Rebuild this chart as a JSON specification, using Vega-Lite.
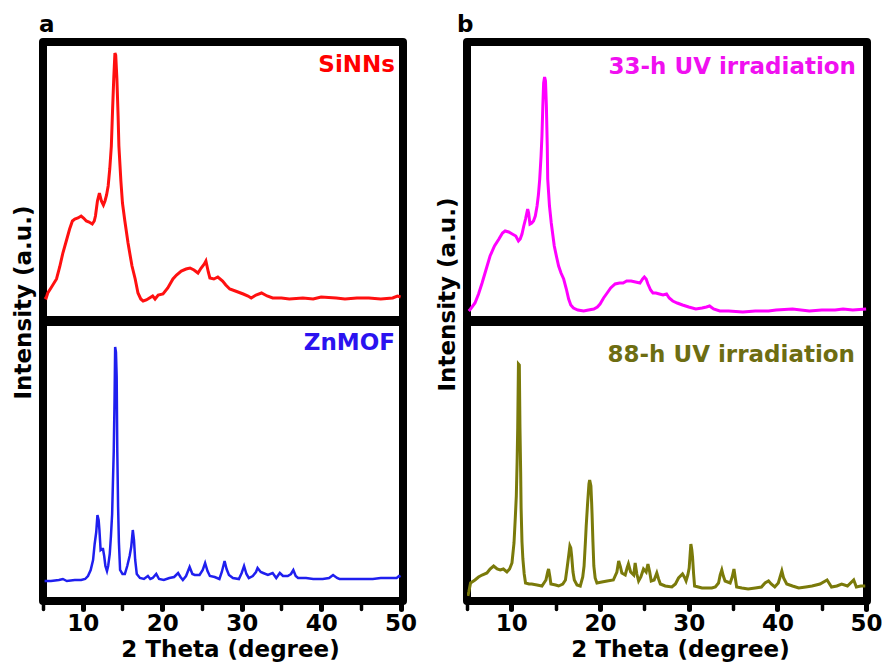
{
  "$schema": "https://vega.github.io/schema/vega-lite/v6.json",
  "padding": {"left": 8, "top": 10, "right": 5, "bottom": 5},
  "background": "white",
  "config": {
    "font": "DejaVu Sans",
    "view": {"stroke": "black", "strokeWidth": 8, "strokeJoin": "round"},
    "axis": {"labelFont": "DejaVu Sans", "labelFontWeight": "bold", "labelFontSize": 23, "labelColor": "black", "titleFont": "DejaVu Sans", "titleFontWeight": "bold", "titleFontSize": 23, "titleColor": "black", "grid": false, "domain": false},
    "title": {"font": "DejaVu Sans", "fontWeight": "bold", "fontSize": 23, "color": "black"},
    "text": {"font": "DejaVu Sans", "fontWeight": "bold", "fontSize": 23, "align": "right", "baseline": "alphabetic"}
  },
  "datasets": {
    "sinns": [
      {"t":5.2,"i":24},{"t":5.4,"i":23},{"t":5.6,"i":28},{"t":6.0,"i":33},{"t":6.7,"i":42},{"t":7.1,"i":54},{"t":7.5,"i":68},{"t":8.0,"i":82},{"t":8.35,"i":92},{"t":8.7,"i":100},{"t":9.0,"i":102},{"t":9.4,"i":103},{"t":9.8,"i":105},{"t":10.1,"i":103},{"t":10.45,"i":100},{"t":10.8,"i":99},{"t":11.2,"i":97},{"t":11.45,"i":100},{"t":11.6,"i":105},{"t":11.85,"i":120},{"t":12.1,"i":128},{"t":12.35,"i":120},{"t":12.6,"i":116},{"t":12.8,"i":120},{"t":13.0,"i":126},{"t":13.2,"i":135},{"t":13.4,"i":152},{"t":13.6,"i":175},{"t":13.75,"i":210},{"t":13.9,"i":242},{"t":14.05,"i":268},{"t":14.15,"i":266},{"t":14.3,"i":242},{"t":14.45,"i":205},{"t":14.55,"i":175},{"t":14.8,"i":140},{"t":15.0,"i":118},{"t":15.3,"i":100},{"t":15.7,"i":78},{"t":16.0,"i":64},{"t":16.2,"i":55},{"t":16.6,"i":42},{"t":16.95,"i":28},{"t":17.3,"i":22},{"t":17.6,"i":20},{"t":18.0,"i":21},{"t":18.4,"i":23},{"t":18.8,"i":25},{"t":19.1,"i":22},{"t":19.5,"i":26},{"t":20.1,"i":27},{"t":20.7,"i":33},{"t":21.35,"i":42},{"t":21.8,"i":46},{"t":22.4,"i":50},{"t":23.0,"i":52},{"t":23.5,"i":53},{"t":24.0,"i":51},{"t":24.5,"i":48},{"t":24.9,"i":53},{"t":25.3,"i":57},{"t":25.5,"i":60},{"t":25.8,"i":49},{"t":26.0,"i":43},{"t":26.5,"i":42},{"t":27.0,"i":44},{"t":27.6,"i":40},{"t":28.0,"i":36},{"t":28.5,"i":32},{"t":29.2,"i":30},{"t":30.2,"i":27},{"t":30.8,"i":25},{"t":31.2,"i":23},{"t":31.8,"i":26},{"t":32.5,"i":28},{"t":33.2,"i":25},{"t":33.9,"i":23},{"t":35,"i":23},{"t":36,"i":22},{"t":37.7,"i":23},{"t":39,"i":22},{"t":40,"i":24},{"t":41.9,"i":23},{"t":43,"i":22},{"t":44.5,"i":23},{"t":46,"i":23},{"t":47.5,"i":22},{"t":49,"i":23},{"t":49.6,"i":25},{"t":50,"i":24}
    ],
    "znmof": [
      {"t":5.2,"i":21},{"t":6,"i":21},{"t":7,"i":22},{"t":7.5,"i":23},{"t":8,"i":21},{"t":9,"i":22},{"t":9.8,"i":22},{"t":10.3,"i":23},{"t":10.66,"i":26},{"t":11.0,"i":32},{"t":11.3,"i":42},{"t":11.5,"i":58},{"t":11.7,"i":70},{"t":11.85,"i":87},{"t":12.0,"i":82},{"t":12.1,"i":72},{"t":12.25,"i":52},{"t":12.4,"i":53},{"t":12.55,"i":53},{"t":12.7,"i":46},{"t":12.85,"i":36},{"t":13.05,"i":31},{"t":13.2,"i":36},{"t":13.4,"i":48},{"t":13.55,"i":66},{"t":13.7,"i":88},{"t":13.8,"i":120},{"t":13.9,"i":150},{"t":14.0,"i":200},{"t":14.08,"i":255},{"t":14.18,"i":250},{"t":14.27,"i":225},{"t":14.35,"i":150},{"t":14.45,"i":95},{"t":14.55,"i":60},{"t":14.7,"i":32},{"t":15.0,"i":28},{"t":15.3,"i":28},{"t":15.6,"i":36},{"t":15.9,"i":46},{"t":16.1,"i":55},{"t":16.3,"i":72},{"t":16.45,"i":62},{"t":16.6,"i":42},{"t":16.8,"i":28},{"t":17.2,"i":24},{"t":17.7,"i":23},{"t":18.2,"i":26},{"t":18.5,"i":23},{"t":18.8,"i":24},{"t":19.25,"i":28},{"t":19.6,"i":23},{"t":20.2,"i":22},{"t":20.9,"i":24},{"t":21.5,"i":25},{"t":22.0,"i":29},{"t":22.3,"i":25},{"t":22.6,"i":22},{"t":23.0,"i":26},{"t":23.45,"i":35},{"t":23.8,"i":28},{"t":24.1,"i":27},{"t":24.7,"i":27},{"t":25.1,"i":32},{"t":25.4,"i":39},{"t":25.7,"i":31},{"t":26.0,"i":26},{"t":26.6,"i":25},{"t":27.2,"i":23},{"t":27.5,"i":30},{"t":27.85,"i":41},{"t":28.1,"i":33},{"t":28.4,"i":27},{"t":28.9,"i":24},{"t":29.65,"i":23},{"t":30.0,"i":29},{"t":30.3,"i":36},{"t":30.6,"i":28},{"t":30.9,"i":24},{"t":31.4,"i":26},{"t":31.8,"i":30},{"t":32.0,"i":34},{"t":32.4,"i":30},{"t":32.7,"i":29},{"t":33.3,"i":27},{"t":33.9,"i":29},{"t":34.35,"i":24},{"t":34.8,"i":29},{"t":35.2,"i":26},{"t":35.8,"i":26},{"t":36.2,"i":28},{"t":36.5,"i":32},{"t":36.8,"i":26},{"t":37.1,"i":24},{"t":38.1,"i":24},{"t":39,"i":23},{"t":40.2,"i":23},{"t":41.0,"i":24},{"t":41.5,"i":27},{"t":42.0,"i":24},{"t":42.3,"i":23},{"t":44.4,"i":23},{"t":46.5,"i":23},{"t":47.5,"i":24},{"t":48.6,"i":24},{"t":49.5,"i":24},{"t":49.8,"i":26},{"t":50,"i":25}
    ],
    "uv33": [
      {"t":5.2,"i":10},{"t":5.4,"i":12},{"t":5.9,"i":18},{"t":6.3,"i":27},{"t":6.7,"i":38},{"t":7.1,"i":50},{"t":7.6,"i":65},{"t":8.1,"i":75},{"t":8.6,"i":82},{"t":9.0,"i":88},{"t":9.3,"i":90},{"t":9.7,"i":89},{"t":10.1,"i":87},{"t":10.5,"i":85},{"t":10.8,"i":80},{"t":11.0,"i":82},{"t":11.2,"i":87},{"t":11.4,"i":95},{"t":11.6,"i":102},{"t":11.84,"i":112},{"t":11.95,"i":108},{"t":12.1,"i":97},{"t":12.3,"i":98},{"t":12.5,"i":100},{"t":12.7,"i":105},{"t":12.9,"i":115},{"t":13.05,"i":126},{"t":13.2,"i":142},{"t":13.35,"i":165},{"t":13.45,"i":185},{"t":13.55,"i":215},{"t":13.64,"i":238},{"t":13.75,"i":244},{"t":13.85,"i":240},{"t":13.95,"i":215},{"t":14.05,"i":175},{"t":14.1,"i":142},{"t":14.3,"i":115},{"t":14.5,"i":98},{"t":14.84,"i":75},{"t":15.1,"i":64},{"t":15.33,"i":55},{"t":15.6,"i":48},{"t":15.9,"i":42},{"t":16.2,"i":32},{"t":16.46,"i":22},{"t":16.7,"i":16},{"t":17.0,"i":13},{"t":17.5,"i":11},{"t":18.15,"i":10},{"t":18.7,"i":11},{"t":19.3,"i":12},{"t":19.7,"i":14},{"t":20.0,"i":17},{"t":20.4,"i":23},{"t":20.8,"i":28},{"t":21.2,"i":33},{"t":21.7,"i":37},{"t":22.2,"i":38},{"t":22.6,"i":38},{"t":23.0,"i":40},{"t":23.5,"i":40},{"t":24.0,"i":39},{"t":24.5,"i":38},{"t":24.8,"i":42},{"t":25.0,"i":44},{"t":25.2,"i":42},{"t":25.4,"i":37},{"t":25.7,"i":31},{"t":25.96,"i":28},{"t":26.3,"i":28},{"t":26.7,"i":27},{"t":27.1,"i":26},{"t":27.5,"i":27},{"t":27.8,"i":23},{"t":28.2,"i":20},{"t":28.7,"i":18},{"t":29.3,"i":16},{"t":30.0,"i":14},{"t":30.8,"i":12},{"t":31.5,"i":13},{"t":32.0,"i":14},{"t":32.35,"i":15},{"t":32.8,"i":12},{"t":33.5,"i":10},{"t":34.5,"i":10},{"t":36.1,"i":9},{"t":37.5,"i":10},{"t":39,"i":10},{"t":39.85,"i":11},{"t":41.7,"i":12},{"t":43.6,"i":10},{"t":45,"i":11},{"t":46.5,"i":11},{"t":47.4,"i":12},{"t":48.5,"i":11},{"t":50,"i":12}
    ],
    "uv88": [
      {"t":5.1,"i":6},{"t":5.2,"i":10},{"t":5.4,"i":19},{"t":5.9,"i":22},{"t":6.3,"i":25},{"t":6.7,"i":27},{"t":7.25,"i":29},{"t":7.6,"i":33},{"t":8.0,"i":36},{"t":8.4,"i":33},{"t":8.75,"i":32},{"t":9.1,"i":33},{"t":9.5,"i":30},{"t":9.8,"i":33},{"t":10.07,"i":39},{"t":10.3,"i":59},{"t":10.45,"i":85},{"t":10.56,"i":106},{"t":10.65,"i":140},{"t":10.72,"i":175},{"t":10.8,"i":238},{"t":10.9,"i":237},{"t":10.97,"i":175},{"t":11.05,"i":130},{"t":11.1,"i":94},{"t":11.2,"i":60},{"t":11.3,"i":43},{"t":11.45,"i":28},{"t":11.6,"i":19},{"t":12.0,"i":18},{"t":12.3,"i":18},{"t":12.9,"i":17},{"t":13.45,"i":16},{"t":13.9,"i":22},{"t":14.1,"i":30},{"t":14.2,"i":33},{"t":14.35,"i":25},{"t":14.46,"i":18},{"t":15.0,"i":17},{"t":15.33,"i":16},{"t":15.8,"i":18},{"t":16.1,"i":22},{"t":16.3,"i":35},{"t":16.46,"i":46},{"t":16.6,"i":56},{"t":16.7,"i":54},{"t":16.8,"i":46},{"t":16.95,"i":30},{"t":17.1,"i":22},{"t":17.4,"i":17},{"t":17.77,"i":16},{"t":18.05,"i":25},{"t":18.2,"i":36},{"t":18.35,"i":60},{"t":18.44,"i":76},{"t":18.6,"i":99},{"t":18.75,"i":118},{"t":18.83,"i":122},{"t":18.97,"i":116},{"t":19.05,"i":100},{"t":19.1,"i":88},{"t":19.2,"i":60},{"t":19.3,"i":36},{"t":19.45,"i":24},{"t":19.65,"i":19},{"t":20.2,"i":20},{"t":20.8,"i":21},{"t":21.5,"i":22},{"t":21.9,"i":30},{"t":22.1,"i":41},{"t":22.3,"i":35},{"t":22.46,"i":29},{"t":22.65,"i":28},{"t":22.84,"i":27},{"t":23.05,"i":34},{"t":23.2,"i":38},{"t":23.45,"i":30},{"t":23.8,"i":27},{"t":23.96,"i":39},{"t":24.15,"i":28},{"t":24.35,"i":21},{"t":24.6,"i":25},{"t":24.9,"i":33},{"t":25.2,"i":30},{"t":25.4,"i":38},{"t":25.6,"i":30},{"t":25.77,"i":21},{"t":26.1,"i":22},{"t":26.4,"i":29},{"t":26.6,"i":23},{"t":26.8,"i":18},{"t":27.35,"i":16},{"t":28.1,"i":15},{"t":28.5,"i":18},{"t":28.85,"i":24},{"t":29.3,"i":28},{"t":29.5,"i":25},{"t":29.7,"i":21},{"t":29.9,"i":27},{"t":30.05,"i":34},{"t":30.24,"i":58},{"t":30.35,"i":52},{"t":30.43,"i":45},{"t":30.55,"i":28},{"t":30.66,"i":16},{"t":31.5,"i":14},{"t":32.6,"i":14},{"t":33.0,"i":15},{"t":33.36,"i":19},{"t":33.55,"i":27},{"t":33.73,"i":32},{"t":33.9,"i":26},{"t":34.1,"i":21},{"t":34.67,"i":19},{"t":34.9,"i":25},{"t":35.1,"i":33},{"t":35.25,"i":24},{"t":35.4,"i":15},{"t":36.0,"i":14},{"t":36.7,"i":13},{"t":37.5,"i":14},{"t":38.2,"i":15},{"t":38.6,"i":19},{"t":39.0,"i":21},{"t":39.3,"i":18},{"t":39.7,"i":15},{"t":40.1,"i":19},{"t":40.5,"i":31},{"t":40.7,"i":24},{"t":41.05,"i":18},{"t":41.7,"i":16},{"t":42.4,"i":14},{"t":43.2,"i":15},{"t":43.9,"i":16},{"t":44.8,"i":18},{"t":45.6,"i":22},{"t":46.1,"i":15},{"t":46.7,"i":16},{"t":47.25,"i":18},{"t":47.9,"i":16},{"t":48.6,"i":22},{"t":48.9,"i":15},{"t":49.4,"i":16},{"t":49.9,"i":16}
    ]
  },
  "columns": 2,
  "align": "each",
  "bounds": "flush",
  "spacing": {"row": 2, "column": 64},
  "concat": [
    {
      "width": 360, "height": 278,
      "title": {"text": "a", "anchor": "start", "frame": "group", "dx": -4, "offset": -13, "baseline": "alphabetic"},
      "layer": [
        {
          "data": {"name": "sinns"},
          "mark": {"type": "line", "color": "#ff1010", "strokeWidth": 3, "clip": true},
          "encoding": {
            "x": {"field": "t", "type": "quantitative", "scale": {"domain": [5, 50.3], "nice": false, "zero": false}, "axis": null},
            "y": {"field": "i", "type": "quantitative", "scale": {"domain": [1, 279], "nice": false, "zero": false}, "axis": {"title": "Intensity (a.u.)", "ticks": false, "labels": false, "titleX": -13, "titleY": 260, "titleBaseline": "alphabetic", "titleAngle": -90}}
          }
        },
        {
          "data": {"values": [{"label": "SiNNs", "t": 50.3, "i": 249}]},
          "mark": {"type": "text", "color": "#ff0000", "dx": -8},
          "encoding": {"x": {"field": "t", "type": "quantitative"}, "y": {"field": "i", "type": "quantitative"}, "text": {"field": "label"}}
        }
      ]
    },
    {
      "width": 400, "height": 278,
      "title": {"text": "b", "anchor": "start", "frame": "group", "dx": -10, "offset": -13, "baseline": "alphabetic"},
      "layer": [
        {
          "data": {"name": "uv33"},
          "mark": {"type": "line", "color": "#ff00ff", "strokeWidth": 3, "clip": true},
          "encoding": {
            "x": {"field": "t", "type": "quantitative", "scale": {"domain": [5, 50.1], "nice": false, "zero": false}, "axis": null},
            "y": {"field": "i", "type": "quantitative", "scale": {"domain": [1, 279], "nice": false, "zero": false}, "axis": {"title": "Intensity (a.u.)", "ticks": false, "labels": false, "titleX": -13, "titleY": 252, "titleBaseline": "alphabetic", "titleAngle": -90}}
          }
        },
        {
          "data": {"values": [{"label": "33-h UV irradiation", "t": 50.1, "i": 247}]},
          "mark": {"type": "text", "color": "#f010f0", "dx": -11},
          "encoding": {"x": {"field": "t", "type": "quantitative"}, "y": {"field": "i", "type": "quantitative"}, "text": {"field": "label"}}
        }
      ]
    },
    {
      "width": 360, "height": 279,
      "layer": [
        {
          "data": {"name": "znmof"},
          "mark": {"type": "line", "color": "#1f1fef", "strokeWidth": 2.5, "clip": true},
          "encoding": {
            "x": {"field": "t", "type": "quantitative", "scale": {"domain": [5, 50.3], "nice": false, "zero": false}, "axis": {"title": "2 Theta (degree)", "values": [5,10,15,20,25,30,35,40,45,50], "tickCount": 20, "labelExpr": "datum.value % 10 === 0 ? datum.label : ''", "tickSize": 8, "tickWidth": {"condition": {"test": "datum.value % 10 === 0", "value": 5}, "value": 3.5}, "tickColor": "black", "tickCap": "round", "labelPadding": 3, "labelFlush": false, "labelOverlap": false, "titleX": 187, "titleY": 55, "titleBaseline": "alphabetic"}},
            "y": {"field": "i", "type": "quantitative", "scale": {"domain": [1, 280], "nice": false, "zero": false}, "axis": null}
          }
        },
        {
          "data": {"values": [{"label": "ZnMOF", "t": 50.3, "i": 252}]},
          "mark": {"type": "text", "color": "#2a12f0", "dx": -8},
          "encoding": {"x": {"field": "t", "type": "quantitative"}, "y": {"field": "i", "type": "quantitative"}, "text": {"field": "label"}}
        }
      ]
    },
    {
      "width": 400, "height": 279,
      "layer": [
        {
          "data": {"name": "uv88"},
          "mark": {"type": "line", "color": "#7a7a0a", "strokeWidth": 3, "clip": true},
          "encoding": {
            "x": {"field": "t", "type": "quantitative", "scale": {"domain": [5, 50.1], "nice": false, "zero": false}, "axis": {"title": "2 Theta (degree)", "values": [5,10,15,20,25,30,35,40,45,50], "tickCount": 20, "labelExpr": "datum.value % 10 === 0 ? datum.label : ''", "tickSize": 8, "tickWidth": {"condition": {"test": "datum.value % 10 === 0", "value": 5}, "value": 3.5}, "tickColor": "black", "tickCap": "round", "labelPadding": 3, "labelFlush": false, "labelOverlap": false, "titleX": 213, "titleY": 55, "titleBaseline": "alphabetic"}},
            "y": {"field": "i", "type": "quantitative", "scale": {"domain": [1, 280], "nice": false, "zero": false}, "axis": null}
          }
        },
        {
          "data": {"values": [{"label": "88-h UV irradiation", "t": 50.1, "i": 240}]},
          "mark": {"type": "text", "color": "#6d6d12", "dx": -12},
          "encoding": {"x": {"field": "t", "type": "quantitative"}, "y": {"field": "i", "type": "quantitative"}, "text": {"field": "label"}}
        }
      ]
    }
  ]
}
